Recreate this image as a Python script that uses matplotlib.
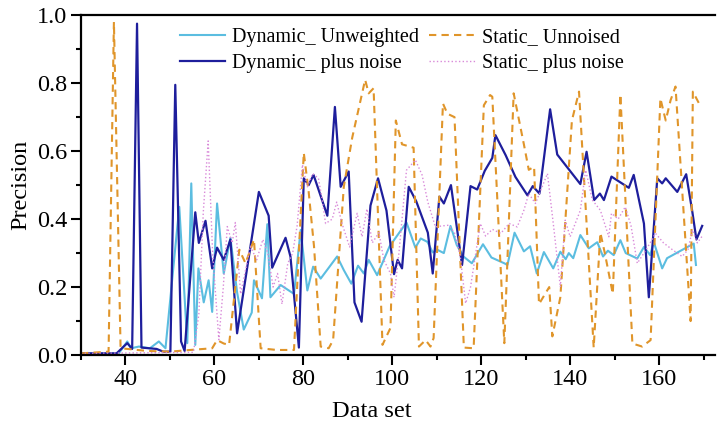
import matplotlib
matplotlib.use("Agg")
import matplotlib.pyplot as plt
from matplotlib.ticker import MultipleLocator

plt.rcParams['font.family'] = ['Liberation Serif', 'DejaVu Serif']

# Dynamic_ Unweighted
dyn_unw_x = [30, 38.5, 40.4, 41.3, 43, 45.5, 47.5, 49.0, 52.1, 53.9, 54.8, 55.7, 56.4, 57.6, 58.7,
             59.5, 60.6, 62.1, 63.6, 65.1, 66.6, 68.4, 68.9, 70.7, 71.9, 72.6, 74.9, 77.9, 79.4,
             80.9, 82.2, 83.9, 87.6, 89.1, 90.8, 92.3, 93.6, 94.7, 96.6, 99.4, 103.2, 105.2,
             106.4, 107.9, 109.1, 110.1, 111.6, 113.1, 114.5, 116.0, 117.9, 120.4, 122.3, 125.2,
             125.9, 127.5, 129.6, 131.0, 132.5, 134.1, 136.2, 137.8, 139.0, 139.7, 140.7, 142.3,
             144.2, 146.1, 147.4, 148.5, 149.8, 151.3, 152.5, 155.1, 156.6, 158.0, 158.8, 160.7,
             161.8, 167.8, 168.3]
dyn_unw_y = [0.005, 0.005, 0.04, 0.02, 0.025, 0.02, 0.04, 0.02, 0.436, 0.035, 0.505, 0.03, 0.255,
             0.155, 0.22, 0.127, 0.446, 0.24, 0.345, 0.185, 0.075, 0.125, 0.22, 0.167, 0.385, 0.17,
             0.206, 0.18, 0.368, 0.19, 0.26, 0.225, 0.29, 0.25, 0.21, 0.263, 0.24, 0.28, 0.235,
             0.32, 0.39, 0.316, 0.343, 0.333, 0.302, 0.31, 0.3, 0.38, 0.324, 0.29, 0.27, 0.326,
             0.287, 0.27, 0.265, 0.36, 0.305, 0.32, 0.24, 0.303, 0.255, 0.304, 0.282, 0.3, 0.285,
             0.353, 0.314, 0.332, 0.29, 0.307, 0.294, 0.338, 0.3, 0.284, 0.318, 0.294, 0.333,
             0.255, 0.285, 0.328, 0.265]

# Dynamic_ plus noise
dyn_noise_x = [30, 38, 40.4, 41.5, 42.6, 43.6, 47, 48.5, 50.1, 51.2, 52.5, 53.3, 55.7, 56.5, 58.0,
               59.5, 60.6, 62.1, 63.6, 65.1, 70.0, 72.2, 73.0, 76.0, 77.1, 79.0, 80.1, 81.2, 82.3,
               85.4, 87.1, 88.4, 90.2, 91.5, 93.1, 95.1, 96.8, 98.7, 100.4, 101.2, 102.2, 103.7,
               105.4, 108.0, 109.1, 110.6, 111.6, 113.2, 115.7, 117.6, 119.1, 120.8, 122.5, 123.2,
               125.5, 127.7, 130.4, 131.6, 133.1, 135.5, 137.1, 142.3, 143.7, 145.4, 146.7, 147.6,
               149.3, 153.2, 154.3, 156.6, 157.7, 159.6, 160.7, 161.5, 164.1, 166.1, 167.5, 168.4,
               169.7]
dyn_noise_y = [0.005, 0.005, 0.035, 0.018, 0.975, 0.022, 0.018, 0.01, 0.01, 0.795, 0.04, 0.012,
               0.42, 0.33, 0.395, 0.255, 0.316, 0.28, 0.34, 0.064, 0.48, 0.41, 0.257, 0.345, 0.29,
               0.022, 0.52, 0.5, 0.53, 0.41, 0.73, 0.495, 0.54, 0.155, 0.098, 0.44, 0.52, 0.425,
               0.238, 0.28, 0.255, 0.495, 0.452, 0.36, 0.24, 0.466, 0.446, 0.5, 0.265, 0.497, 0.487,
               0.542, 0.58, 0.647, 0.588, 0.524, 0.47, 0.497, 0.475, 0.723, 0.59, 0.503, 0.598,
               0.456, 0.475, 0.456, 0.525, 0.492, 0.53, 0.387, 0.17, 0.52, 0.505, 0.52, 0.48,
               0.532, 0.42, 0.34, 0.38]

# Static_ Unnoised
sta_unn_x = [30, 36.2, 37.4, 38.9, 45, 50, 54.6, 59.5, 60.6, 62.1, 63.3, 65.6, 67.0, 68.9, 70.4,
             74, 77.9, 80.1, 81.2, 82.4, 83.9, 85.7, 86.7, 89.1, 91.0, 93.9, 94.7, 95.8, 97.8,
             99.6, 100.8, 102.2, 104.8, 106.0, 107.5, 108.6, 109.3, 111.4, 112.4, 114.0, 116.1,
             118.3, 120.6, 122.0, 122.5, 125.2, 127.3, 129.6, 130.7, 131.9, 133.0, 135.3, 136.0,
             137.8, 140.4, 142.0, 145.3, 146.8, 147.8, 149.6, 151.3, 154.0, 156.2, 158.1, 160.3,
             161.5, 162.6, 163.7, 167.1, 167.6, 169.0]
sta_unn_y = [0.005, 0.01, 0.98, 0.02, 0.012, 0.01, 0.015, 0.02, 0.044, 0.034, 0.03, 0.31, 0.27,
             0.34, 0.02, 0.015, 0.015, 0.595, 0.48, 0.32, 0.025, 0.02, 0.044, 0.495, 0.64, 0.81,
             0.77, 0.785, 0.03, 0.08, 0.69, 0.62, 0.61, 0.025, 0.044, 0.025, 0.05, 0.74, 0.71,
             0.70, 0.022, 0.02, 0.735, 0.765, 0.76, 0.035, 0.77, 0.62, 0.545, 0.554, 0.15, 0.2,
             0.055, 0.17, 0.69, 0.775, 0.022, 0.36, 0.3, 0.18, 0.767, 0.034, 0.025, 0.044, 0.755,
             0.69, 0.75, 0.79, 0.1, 0.775, 0.74]

# Static_ plus noise
sta_noise_x = [30, 55.3, 56.5, 57.5, 58.6, 59.6, 61.0, 62.0, 62.9, 64.0, 64.7, 65.9, 67.0, 68.1,
               69.5, 70.9, 72.0, 73.2, 74.2, 75.2, 76.5, 77.6, 78.6, 79.8, 80.9, 82.1, 83.4, 84.2,
               85.0, 86.5, 87.5, 88.7, 90.4, 92.1, 93.2, 94.3, 95.5, 97.0, 98.1, 99.6, 100.4,
               101.5, 103.2, 105.2, 106.7, 108.0, 109.7, 111.2, 112.7, 114.0, 115.3, 116.5, 117.6,
               119.8, 121.0, 122.5, 124.4, 126.3, 128.1, 129.6, 130.7, 132.2, 134.9, 136.3, 137.8,
               138.9, 140.0, 142.3, 143.5, 145.0, 146.8, 148.7, 149.3, 150.8, 152.4, 153.7, 155.1,
               156.6, 158.0, 159.2, 161.0, 163.0, 165.2, 166.5, 167.5, 168.6, 169.7]
sta_noise_y = [0.005, 0.008, 0.12, 0.42, 0.63, 0.3, 0.045, 0.2, 0.378, 0.33, 0.39, 0.18, 0.25,
               0.32, 0.28, 0.34, 0.3, 0.2, 0.24, 0.15, 0.27, 0.3, 0.38, 0.56, 0.495, 0.534, 0.52,
               0.46, 0.387, 0.4, 0.45, 0.387, 0.318, 0.417, 0.348, 0.43, 0.33, 0.36, 0.28, 0.24,
               0.17, 0.3, 0.544, 0.574, 0.53, 0.45, 0.377, 0.38, 0.382, 0.36, 0.29, 0.152, 0.2,
               0.387, 0.35, 0.37, 0.358, 0.387, 0.377, 0.426, 0.475, 0.446, 0.534, 0.377, 0.2,
               0.397, 0.348, 0.426, 0.544, 0.456, 0.426, 0.348, 0.417, 0.4, 0.436, 0.38, 0.27, 0.3,
               0.33, 0.358, 0.33, 0.31, 0.29, 0.31, 0.368, 0.33, 0.35]

fig = plt.figure(figsize=(7.22, 4.33), dpi=100)
ax = fig.add_axes([0.1122, 0.180, 0.8776, 0.785])

ax.plot(dyn_unw_x, dyn_unw_y, color='#5BBDE0', lw=1.5, label='Dynamic_ Unweighted')
ax.plot(dyn_noise_x, dyn_noise_y, color='#1E1E9C', lw=1.6, label='Dynamic_ plus noise')
ax.plot(sta_unn_x, sta_unn_y, color='#E0952A', lw=1.5, dashes=(3.5, 2.5), label='Static_ Unnoised')
ax.plot(sta_noise_x, sta_noise_y, color='#D98AD9', lw=1.0, ls=':', label='Static_ plus noise')

ax.set_xlim(30, 172.5)
ax.set_ylim(0, 1.0)
ax.xaxis.set_major_locator(MultipleLocator(20))
ax.xaxis.set_minor_locator(MultipleLocator(10))
ax.yaxis.set_major_locator(MultipleLocator(0.2))
ax.yaxis.set_minor_locator(MultipleLocator(0.1))
ax.set_yticklabels([f"{v:.1f}" for v in ax.get_yticks()])

for side in ['left', 'bottom', 'top']:
    ax.spines[side].set_linewidth(1.6)
ax.spines['right'].set_visible(False)

ax.tick_params(which='major', direction='out', length=7, width=1.5, labelsize=17.5, pad=3)
ax.tick_params(which='minor', direction='out', length=3.5, width=1.5)
ax.tick_params(top=False, right=False, which='both')

ax.set_xlabel('Data set', fontsize=17.5, labelpad=5)
ax.xaxis.set_label_coords(0.459, -0.135)
ax.set_ylabel('Precision', fontsize=17.5, labelpad=4)

ax.legend(ncol=2, loc='upper left', bbox_to_anchor=(0.156, 0.962), frameon=False,
          fontsize=14.5, handlelength=2.25, handletextpad=0.35, columnspacing=0.5,
          labelspacing=0.35, borderpad=0, borderaxespad=0)

fig.savefig('out.png', dpi=100)
